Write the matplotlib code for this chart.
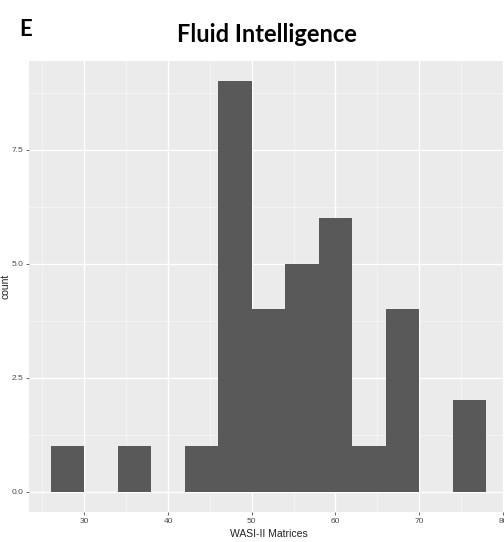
import matplotlib
matplotlib.use("Agg")
from matplotlib import pyplot as plt
from matplotlib.ticker import MultipleLocator

# histogram bins (left edge, width 4) and counts
bin_left = [26, 34, 42, 46, 50, 54, 58, 62, 66, 74]
counts = [1, 1, 1, 9, 4, 5, 6, 1, 4, 2]
bin_width = 4
x_ticks = [30, 40, 50, 60, 70, 80]
y_ticks = [0.0, 2.5, 5.0, 7.5]

plt.rcParams["font.family"] = ["Liberation Sans", "DejaVu Sans"]

fig = plt.figure(figsize=(5.04, 5.42), dpi=100)
ax = fig.add_axes([29 / 504, 1 - 512 / 542, 479 / 504, 451 / 542])
ax.set_facecolor("#ebebeb")

ax.bar(bin_left, counts, width=bin_width, align="edge", color="#595959",
       edgecolor="none", zorder=3)

ax.set_xlim(23.4, 80.6)
ax.set_ylim(-0.45, 9.45)
ax.set_xticks(x_ticks)
ax.set_yticks(y_ticks)
ax.set_yticklabels(["%.1f" % v for v in y_ticks])
ax.xaxis.set_minor_locator(MultipleLocator(5))
ax.yaxis.set_minor_locator(MultipleLocator(1.25))
ax.grid(which="major", color="white", linewidth=1.0, zorder=1)
ax.grid(which="minor", color="white", linewidth=0.5, alpha=0.6, zorder=1)
ax.set_axisbelow(True)
for s in ax.spines.values():
    s.set_visible(False)
ax.tick_params(which="major", length=2.5, width=0.6, color="#4d4d4d",
               labelsize=6, labelcolor="#4d4d4d", pad=1.5)
ax.tick_params(which="minor", length=0)

ax.set_xlabel("WASI-II Matrices", fontsize=7.5, labelpad=3, color="#222222")
ax.set_ylabel("count", fontsize=7.5, labelpad=1, color="#222222")

fig.text(0.5 + 15 / 504, 1 - 35 / 542, "Fluid Intelligence", ha="center", va="center",
         fontsize=17, fontweight="bold", family="Lato")
fig.text(19 / 504, 1 - 29.5 / 542, "E", ha="left", va="center",
         fontsize=16, fontweight="bold", family="Lato")

fig.savefig("out.png", dpi=100)
